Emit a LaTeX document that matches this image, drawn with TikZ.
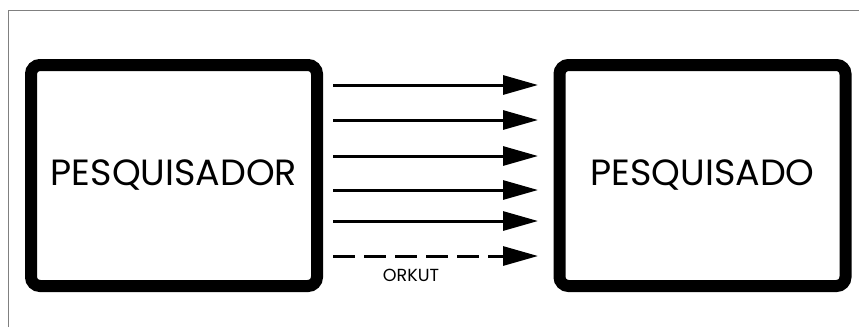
\documentclass[tikz,border=0pt]{standalone}
\usepackage{fontspec}
\setmainfont{Poppins}
\usetikzlibrary{arrows.meta}
\begin{document}
\begin{tikzpicture}[x=1pt,y=-1pt,
  bigbox/.style={draw=black,line width=12pt,rounded corners=9pt,minimum width=286pt,minimum height=221pt,inner sep=0pt,font=\fontsize{36.5}{36.5}\selectfont},
  flow/.style={line width=3pt,-{Triangle[length=35pt,width=19pt]}},
  frame/.style={draw=gray,line width=1.2pt}]
\useasboundingbox (0,0) rectangle (859,327);
\draw[frame] (8.5,327) -- (8.5,10.5) -- (859,10.5);
\node[bigbox] (L) at (174,175.5) {PESQUISADOR};
\node[bigbox] (R) at (702.5,175.5) {PESQUISADO};
\foreach \i/\y in {1/85,2/120,3/156,4/190,5/221,6/256}{
  \coordinate (s\i) at (333,\y);
  \coordinate (e\i) at (538,\y);
}
\foreach \i in {1,...,5}{\draw[flow] (s\i) -- (e\i);}
\draw[flow,dash pattern=on 22pt off 9pt] (s6) -- (e6);
\node[font=\fontsize{17.5}{17.5}\selectfont,anchor=base,inner sep=0pt] (o) at (411,281) {ORKUT};
\end{tikzpicture}
\end{document}
